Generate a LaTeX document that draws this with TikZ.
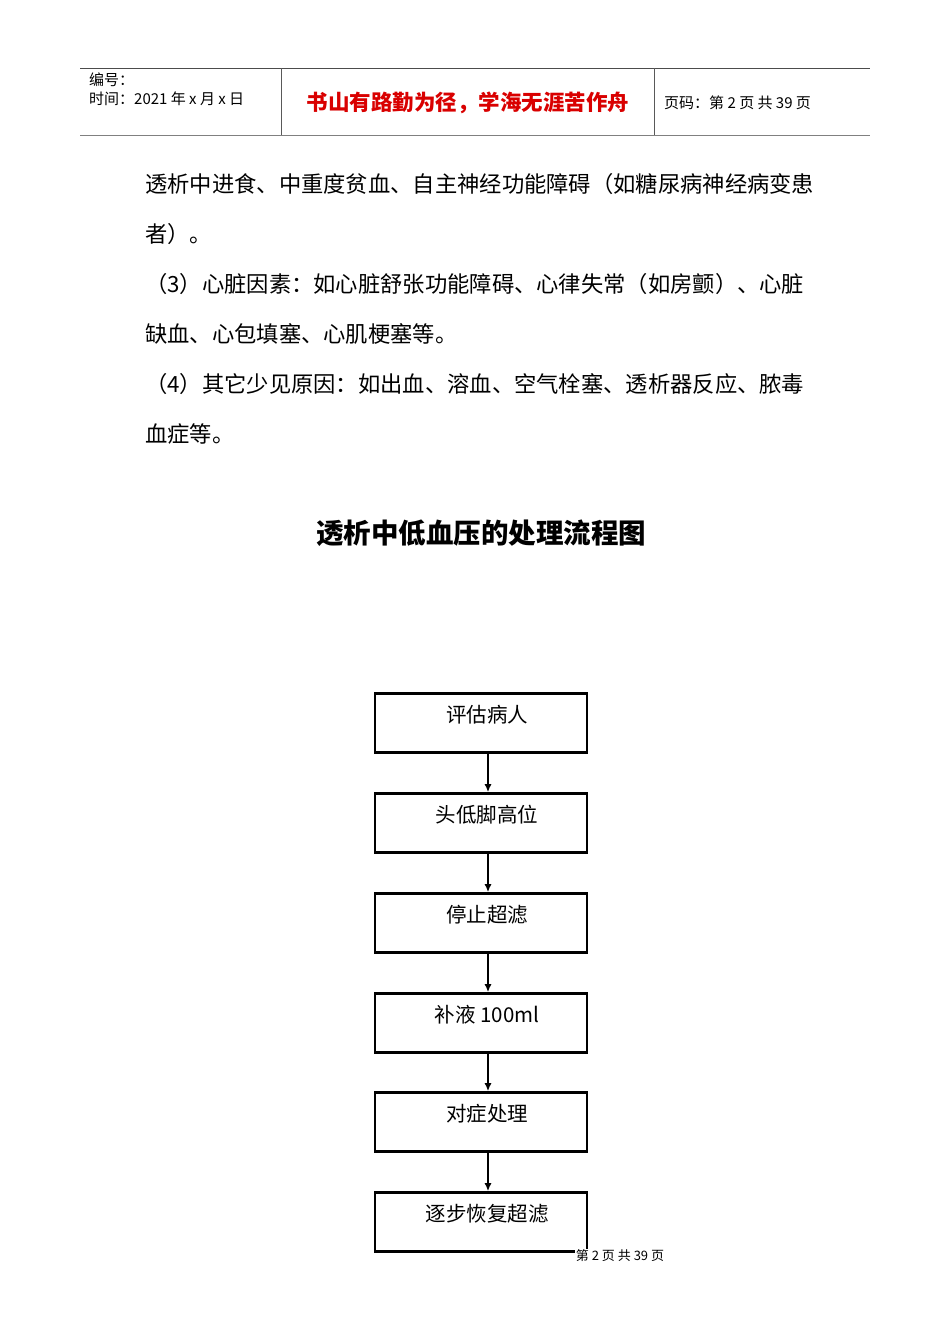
\documentclass[tikz,border=0pt]{standalone}
\usetikzlibrary{arrows.meta}
\usepackage{fontspec}
\setmainfont{Noto Sans CJK SC}
\newfontfamily\cjk{Noto Sans CJK SC}
\begin{document}
\begin{tikzpicture}[x=1pt,y=-1pt,
  stepbox/.style={draw,line width=2.6pt,minimum width=212pt,minimum height=59pt,inner sep=0pt},
  boxtext/.style={font=\fontsize{20.5}{20.5}\selectfont\cjk},
  body/.style={anchor=west,inner sep=0pt,font=\fontsize{22.3}{22.3}\selectfont\cjk},
  conn/.style={-{Latex[length=8pt,width=7pt]},line width=2pt}]
\useasboundingbox (0,0) rectangle (950,1344);
\fill[white] (0,0) rectangle (950,1344);
% header
\draw[line width=0.8pt,gray!60!black] (80,68) -- (870,68);
\draw[line width=1.5pt,gray] (80,135.5) -- (870,135.5);
\draw[line width=0.6pt,gray!70!black] (281,68) -- (281,135) (654,68) -- (654,135);
\node[anchor=west,inner sep=0pt,font=\fontsize{15}{15}\selectfont] (h1) at (89,80) {编号：};
\node[anchor=west,inner sep=0pt,font=\fontsize{15}{15}\selectfont] (h2) at (89,99) {时间：2021 年 x 月 x 日};
\node[inner sep=0pt,text=red!85!black,font=\fontsize{21.5}{21.5}\selectfont\bfseries] (h3) at (468,103) {书山有路勤为径，学海无涯苦作舟};
\node[anchor=west,inner sep=0pt,font=\fontsize{15}{15}\selectfont] (h4) at (664,103) {页码：第 2 页 共 39 页};
% body
\node[body] (l1) at (145,184) {透析中进食、中重度贫血、自主神经功能障碍（如糖尿病神经病变患};
\node[body] (l2) at (145,234) {者）。};
\node[body] (l3) at (145,284) {（3）心脏因素：如心脏舒张功能障碍、心律失常（如房颤）、心脏};
\node[body] (l4) at (145,334) {缺血、心包填塞、心肌梗塞等。};
\node[body] (l5) at (145,384) {（4）其它少见原因：如出血、溶血、空气栓塞、透析器反应、脓毒};
\node[body] (l6) at (145,434) {血症等。};
\node[font=\fontsize{27.5}{27.5}\selectfont\bfseries] (title) at (481,533) {透析中低血压的处理流程图};
% flow
\foreach \n/\y/\t in {a/723/评估病人,b/823/头低脚高位,c/923/停止超滤,d/1023/补液 100ml,e/1122/对症处理,f/1222/逐步恢复超滤}{
  \node[stepbox] (\n) at (481,\y) {};
  \node[boxtext] (\n t) at (487,\y-8) {\t};
}
\foreach \p/\q in {a/b,b/c,c/d,d/e,e/f}{
  \draw[conn] ([xshift=7pt]\p.south) -- ([xshift=7pt]\q.north);
}
\node[font=\fontsize{13}{13}\selectfont,fill=white,inner sep=1pt] (foot) at (620,1256) {第 2 页 共 39 页};
\end{tikzpicture}
\end{document}
